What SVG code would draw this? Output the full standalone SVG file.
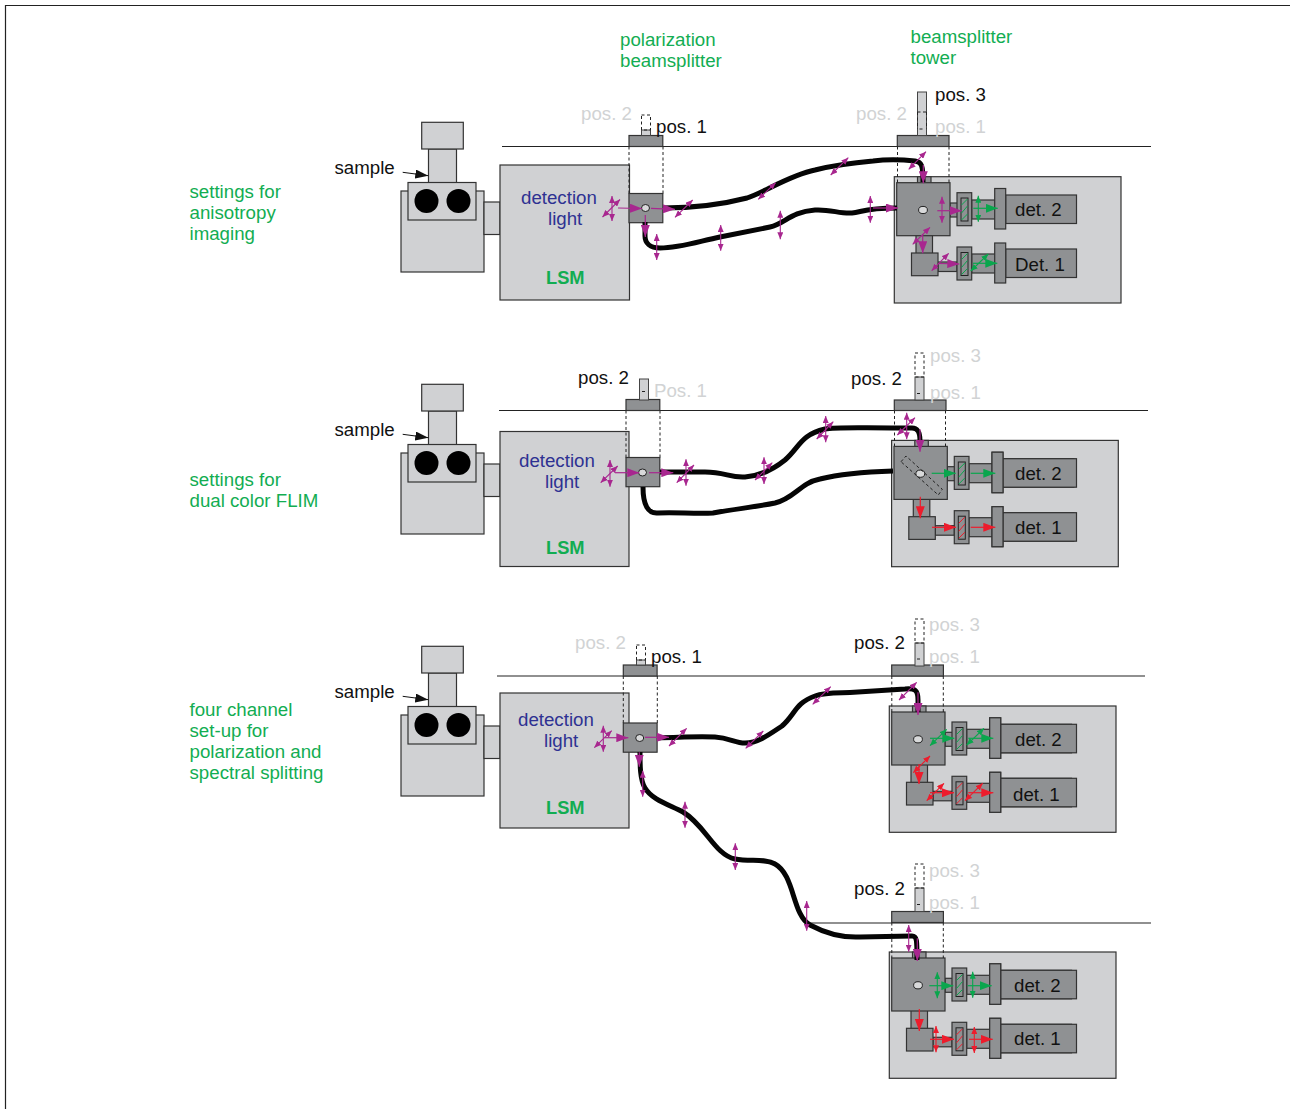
<svg xmlns="http://www.w3.org/2000/svg" width="1290" height="1109" viewBox="0 0 1290 1109">
<style>
text{font-family:"Liberation Sans",Arial,sans-serif;font-size:18.7px;fill:#111}
.g{fill:#12ad52}.b{fill:#2e3192}.f{fill:#d1d3d4}.lsm{fill:#12ad52;font-weight:bold;font-size:18.3px}
.lt{fill:#d0d1d3;stroke:#333;stroke-width:1.2}
.dk{fill:#8f9193;stroke:#333;stroke-width:1.2}
.bar{fill:#d0d1d3;stroke:#444;stroke-width:1}
.ds{fill:none;stroke:#222;stroke-width:1;stroke-dasharray:3 2.5}
.rule{stroke:#222;stroke-width:1.2;fill:none}
.fiber{fill:none;stroke:#050505;stroke-width:5;stroke-linejoin:round;stroke-linecap:butt}
.dot{fill:#d8d9da;stroke:#222;stroke-width:1}
.m{stroke:#a8278f;stroke-width:1.1;fill:none;marker-start:url(#ms);marker-end:url(#ms)}
.mb{stroke:#a8278f;stroke-width:1.2;fill:none;marker-end:url(#mb)}
.n{stroke:#0aa64d;stroke-width:1.1;fill:none;marker-start:url(#ns);marker-end:url(#ns)}
.nb{stroke:#0aa64d;stroke-width:1.2;fill:none;marker-end:url(#nb)}
.r{stroke:#ed1c2c;stroke-width:1.1;fill:none;marker-start:url(#rs);marker-end:url(#rs)}
.rb{stroke:#ed1c2c;stroke-width:1.2;fill:none;marker-end:url(#rb)}
.sa{stroke:#111;stroke-width:1;fill:none;marker-end:url(#kb)}
</style>
<defs>
<marker id="ms" markerUnits="userSpaceOnUse" markerWidth="8" markerHeight="6" refX="7" refY="3" orient="auto-start-reverse"><path d="M0 0L7 3L0 6z" fill="#a8278f"/></marker>
<marker id="mb" markerUnits="userSpaceOnUse" markerWidth="13" markerHeight="9" refX="12" refY="4.5" orient="auto"><path d="M0 0L12 4.5L0 9z" fill="#a8278f"/></marker>
<marker id="ns" markerUnits="userSpaceOnUse" markerWidth="8" markerHeight="6" refX="7" refY="3" orient="auto-start-reverse"><path d="M0 0L7 3L0 6z" fill="#0aa64d"/></marker>
<marker id="nb" markerUnits="userSpaceOnUse" markerWidth="13" markerHeight="9" refX="12" refY="4.5" orient="auto"><path d="M0 0L12 4.5L0 9z" fill="#0aa64d"/></marker>
<marker id="rs" markerUnits="userSpaceOnUse" markerWidth="8" markerHeight="6" refX="7" refY="3" orient="auto-start-reverse"><path d="M0 0L7 3L0 6z" fill="#ed1c2c"/></marker>
<marker id="rb" markerUnits="userSpaceOnUse" markerWidth="13" markerHeight="9" refX="12" refY="4.5" orient="auto"><path d="M0 0L12 4.5L0 9z" fill="#ed1c2c"/></marker>
<marker id="kb" markerUnits="userSpaceOnUse" markerWidth="14" markerHeight="9" refX="13" refY="4.5" orient="auto"><path d="M0 0L13 4.5L0 9z" fill="#111"/></marker>
<g id="scope">
<rect class="lt" x="401" y="191" width="83" height="81"/>
<rect class="lt" x="484" y="202" width="16" height="32.5"/>
<rect class="lt" x="428.5" y="149" width="28" height="34"/>
<rect class="lt" x="421.7" y="122.3" width="41.6" height="26.7"/>
<rect class="lt" x="408" y="182.5" width="68" height="37.5"/>
<circle cx="426.5" cy="201" r="12" fill="#000"/>
<circle cx="458.5" cy="201" r="12" fill="#000"/>
</g>
<g id="polbase">
<rect class="dk" x="0" y="-11" width="33.8" height="11"/>
<path class="ds" d="M0 0V47M34 0V47"/>
<rect class="dk" x="0" y="47" width="33.8" height="29.2"/>
</g>
<g id="towerbase">
<rect class="lt" x="894.3" y="176.7" width="226.7" height="126.3"/>
<rect class="dk" x="917.5" y="176.7" width="13.5" height="7"/>
<rect class="dk" x="950" y="203" width="8" height="14"/>
<rect class="dk" x="971.7" y="200" width="24" height="19"/>
<rect class="dk" x="1005.7" y="195" width="70.8" height="28.5"/>
<rect class="dk" x="994.7" y="188.5" width="11" height="40.5"/>
<rect class="dk" x="957" y="192.7" width="14.7" height="33"/>
<rect class="dk" x="916" y="235" width="16.5" height="19"/>
<rect class="dk" x="938" y="262" width="19" height="9.5"/>
<rect class="dk" x="971.7" y="254" width="24" height="19"/>
<rect class="dk" x="1005.7" y="249" width="70.8" height="28.5"/>
<rect class="dk" x="994.7" y="243" width="11" height="40"/>
<rect class="dk" x="957" y="247" width="14.7" height="33"/>
<rect class="dk" x="911.5" y="253" width="26.5" height="22.7"/>
<rect class="dk" x="896.7" y="182.7" width="53.3" height="53"/>
<ellipse class="dot" cx="923" cy="210" rx="4.4" ry="3.6"/>
</g>
<g id="filter">
<rect x="961" y="0" width="7" height="23" fill="#8f9193" stroke="#222" stroke-width="1"/>
<path d="M961.5 7L967.5 1M961.5 15L967.5 8M961.5 22L967.5 16" stroke="currentColor" stroke-width="1" fill="none"/>
</g>
</defs>

<g id="frame"><path d="M1290 5.500H5.500V1109" fill="none" stroke="#222" stroke-width="1.200"/></g>

<g id="row-labels">
<text class="g" x="189.500" y="198">settings for</text>
<text class="g" x="189.500" y="219">anisotropy</text>
<text class="g" x="189.500" y="240">imaging</text>
<text class="g" x="189.500" y="486">settings for</text>
<text class="g" x="189.500" y="507">dual color FLIM</text>
<text class="g" x="189.500" y="716">four channel</text>
<text class="g" x="189.500" y="737">set-up for</text>
<text class="g" x="189.500" y="758">polarization and</text>
<text class="g" x="189.500" y="779">spectral splitting</text>
<text class="g" x="620" y="46">polarization</text>
<text class="g" x="620" y="67">beamsplitter</text>
<text class="g" x="910.500" y="43">beamsplitter</text>
<text class="g" x="910.500" y="64">tower</text>
</g>

<g id="rules">
<path class="rule" d="M502 146.500H1151M499 410.500H1148M497 676H1145M806 923H1151"/>
</g>

<g id="scope1"><use href="#scope"/><text x="334.500" y="174">sample</text></g>
<g id="scope2"><use href="#scope" y="262"/><text x="334.500" y="436">sample</text></g>
<g id="scope3"><use href="#scope" y="524"/><text x="334.500" y="698">sample</text></g>

<g id="lsm1"><rect class="lt" x="500" y="165" width="129.500" height="135"/><text class="b" x="521" y="204">detection</text><text class="b" x="548" y="225">light</text><text class="lsm" x="546" y="284">LSM</text></g>
<g id="lsm2"><rect class="lt" x="500" y="431.500" width="129" height="135"/><text class="b" x="519" y="467">detection</text><text class="b" x="545" y="488">light</text><text class="lsm" x="546" y="554">LSM</text></g>
<g id="lsm3"><rect class="lt" x="500" y="693" width="129" height="135"/><text class="b" x="518" y="726">detection</text><text class="b" x="544" y="747">light</text><text class="lsm" x="546" y="814">LSM</text></g>

<g id="pol1">
<use href="#polbase" x="629" y="146.500"/>
<rect class="bar" x="641.500" y="130" width="9" height="5.500"/><rect class="ds" x="641.500" y="115" width="9" height="15"/>
<ellipse class="dot" cx="645.500" cy="208" rx="4" ry="3.500"/>
<text class="f" x="581" y="120">pos. 2</text><text x="656" y="133">pos. 1</text>
</g>
<g id="pol2">
<use href="#polbase" x="626" y="410.500"/>
<rect class="bar" x="639.500" y="379" width="9" height="21"/><path class="ds" d="M642 391.500H646"/>
<ellipse class="dot" cx="642.500" cy="472.500" rx="4" ry="3.500"/>
<text x="578" y="384">pos. 2</text><text class="f" x="654" y="397">Pos. 1</text>
</g>
<g id="pol3">
<use href="#polbase" x="623.300" y="676"/>
<rect class="bar" x="636.500" y="660" width="9" height="5"/><rect class="ds" x="636.500" y="645" width="9" height="15"/>
<ellipse class="dot" cx="639.700" cy="738" rx="4" ry="3.500"/>
<text class="f" x="575" y="649">pos. 2</text><text x="651" y="663">pos. 1</text>
</g>

<g id="tower1">
<use href="#towerbase"/>
<use href="#filter" y="198" color="#0aa64d"/><use href="#filter" y="252.500" color="#0aa64d"/>
<rect class="dk" x="897.300" y="135.500" width="51.700" height="11"/>
<rect class="bar" x="917.500" y="92" width="9" height="43.500"/><path class="ds" d="M917.500 112H926.500M917.500 112V129M926.500 112V129M919.500 129H924"/>
<path class="ds" d="M897.500 146.500V182.500M949 146.500V182.500"/>
<text x="1015" y="216">det. 2</text><text x="1015" y="271">Det. 1</text>
<text class="f" x="856" y="120">pos. 2</text><text x="935" y="101">pos. 3</text><text class="f" x="935" y="133">pos. 1</text>
</g>
<g id="tower2">
<use href="#towerbase" x="-2.700" y="263.700"/>
<rect class="dk" x="1003" y="458.700" width="73.500" height="28.500"/><rect class="dk" x="1003" y="512.700" width="73.500" height="28.500"/>
<rect class="dk" x="992" y="452.200" width="11" height="40.500"/><rect class="dk" x="992" y="506.700" width="11" height="40"/>
<use href="#filter" x="-2.700" y="462" color="#0aa64d"/><use href="#filter" x="-2.700" y="516.200" color="#ed1c2c"/>
<rect class="dk" x="894.300" y="400" width="51.700" height="10.500"/>
<rect class="bar" x="915" y="377" width="9" height="23"/><rect class="ds" x="915" y="353" width="9" height="24"/><path class="ds" d="M917 393.500H922"/>
<path class="ds" d="M894.500 410.500V446M945.500 410.500V446"/>
<path d="M901 461.700L906 456L942.300 489.300L938.300 495Z" fill="none" stroke="#222" stroke-width="1" stroke-dasharray="3 2.500"/>
<text x="1015" y="480">det. 2</text><text x="1015" y="534">det. 1</text>
<text x="851" y="385">pos. 2</text><text class="f" x="930" y="362">pos. 3</text><text class="f" x="930" y="399">pos. 1</text>
</g>
<g id="tower3">
<use href="#towerbase" x="-5" y="529.300"/>
<rect class="dk" x="1000.700" y="724.300" width="75.800" height="28.500"/><rect class="dk" x="1000.700" y="778.300" width="75.800" height="28.500"/>
<rect class="dk" x="989.700" y="717.800" width="11" height="40.500"/><rect class="dk" x="989.700" y="772.300" width="11" height="40"/>
<use href="#filter" x="-5" y="727.500" color="#0aa64d"/><use href="#filter" x="-5" y="781.800" color="#ed1c2c"/>
<rect class="dk" x="891.700" y="665" width="51.700" height="11"/>
<rect class="bar" x="915" y="643" width="9" height="23"/><rect class="ds" x="915" y="619" width="9" height="24"/><path class="ds" d="M917 659H922"/>
<path class="ds" d="M891.800 676V712M943.300 676V712"/>
<text x="1015" y="746">det. 2</text><text x="1013" y="801">det. 1</text>
<text x="854" y="649">pos. 2</text><text class="f" x="929" y="631">pos. 3</text><text class="f" x="929" y="663">pos. 1</text>
</g>
<g id="tower4">
<use href="#towerbase" x="-5" y="775.300"/>
<rect class="dk" x="1000.700" y="970.300" width="75.800" height="28.500"/><rect class="dk" x="1000.700" y="1024.300" width="75.800" height="28.500"/>
<rect class="dk" x="989.700" y="963.800" width="11" height="40.500"/><rect class="dk" x="989.700" y="1018.300" width="11" height="40"/>
<use href="#filter" x="-5" y="973.500" color="#0aa64d"/><use href="#filter" x="-5" y="1027.800" color="#ed1c2c"/>
<rect class="dk" x="891.700" y="911.500" width="51.700" height="11"/>
<rect class="bar" x="915" y="888" width="9" height="23.500"/><rect class="ds" x="915" y="864" width="9" height="24"/><path class="ds" d="M917 904.500H922"/>
<path class="ds" d="M891.800 922.500V958M943.300 922.500V958"/>
<text x="1014" y="992">det. 2</text><text x="1014" y="1045">det. 1</text>
<text x="854" y="895">pos. 2</text><text class="f" x="929" y="877">pos. 3</text><text class="f" x="929" y="909">pos. 1</text>
</g>

<g id="connectors">
<path class="sa" d="M402.700 172.300L428.300 175.700"/><path class="sa" d="M402.700 434.300L428.300 437.700"/><path class="sa" d="M402.700 696.300L428.300 699.700"/>

<path class="fiber" d="M663 208C690 208 720 205 747 198C765 192 790 175 815 170C835 165 850 163 873 161C890 159 905 160 915 161C922 162 923 166 923 182"/>
<path class="fiber" d="M645 222V236C645 243 650 248 660 248C680 248 700 241 720 237L770 227C785 224 790 212 815 210C830 209 840 214 852 213C862 212 865 208 897 208"/>
<path class="fiber" d="M660 472H705C725 472 730 478 745 477C760 476 775 468 785 460C800 447 800 435 825 429C835 427 850 428 912 428C918 428 920 432 920 441"/>
<path class="fiber" d="M643 487C643 505 648 514 658 513C675 512 695 514 713 513C735 509 755 507 775 503C795 498 800 483 820 479C840 474 860 472 893 471"/>
<path class="fiber" d="M658 738C680 737 700 736 715 737C730 738 735 743 745 743C758 743 770 734 782 726C795 715 795 703 815 696C825 692 840 693 850 692.500L905 689C915 688 918 690 918 700V712"/>
<path class="fiber" d="M640 752C640 765 640 780 645 788C652 800 670 805 683 812C705 825 715 855 735 859C750 862 765 858 775 864C795 875 792 915 810 925C825 933 840 938 860 937L912 936C917 936 917 940 917 960"/>

<g id="arrows1">
<path class="m" d="M612 196V221"/><path class="m" d="M602.500 217L620 199.500"/><path class="mb" d="M618 208L642 208.500"/>
<path class="mb" d="M651 208.300L675 209.300"/><path class="m" d="M675 217.300L692.700 200"/><path class="m" d="M758.300 199.300L775.700 182.700"/><path class="m" d="M830.700 175L848.300 157.700"/>
<path class="m" d="M720.700 225V250.700"/><path class="m" d="M780.300 210.700V239.300"/><path class="m" d="M656.700 234V260"/><path class="mb" d="M645.300 215V237"/>
<path class="m" d="M908.700 169.300L926 151.700"/><path class="mb" d="M923.300 165V183.300"/><path class="m" d="M870.300 196V222.700"/><path class="mb" d="M873 208H898"/>
<path class="m" d="M942 196.700V222.700"/><path class="mb" d="M937.300 210.700H961.700"/><path class="n" d="M978.300 195.700V221.700"/><path class="nb" d="M973.300 208.300H997.700"/>
<path class="m" d="M912.700 244.300L930 227.300"/><path class="mb" d="M922.700 234V253.300"/><path class="m" d="M931.700 270.700L948.700 253.300"/><path class="mb" d="M938.300 263.300L959.300 264"/>
<path class="n" d="M970.700 271L988.300 254"/><path class="nb" d="M973 263.300H997.300"/>
</g>
<g id="arrows2">
<path class="m" d="M610 460V486.700"/><path class="m" d="M600.700 482.700L617.700 466"/><path class="mb" d="M615 472.700H639.300"/><path class="mb" d="M649 472.700H673.300"/>
<path class="m" d="M686 459.300V485.700"/><path class="m" d="M676.700 482.700L694 465"/><path class="m" d="M764 457.300V484"/><path class="m" d="M755 480L772.300 462.700"/>
<path class="m" d="M825.700 416V442.300"/><path class="m" d="M816.700 439L833.300 421.700"/>
<path class="m" d="M906.700 412.700V439.300"/><path class="m" d="M897.300 435L915 417.700"/><path class="mb" d="M920 429.300V451.700"/>
<path class="nb" d="M931.700 473.300H955.700"/><path class="nb" d="M970.700 473.300H995.300"/>
<path class="rb" d="M920.300 496.700V518.300"/><path class="rb" d="M932 527.300H956"/><path class="rb" d="M970.700 527.300H995.300"/>
</g>
<g id="arrows3">
<path class="m" d="M603.300 725.700V751.700"/><path class="m" d="M594.300 747.700L611.700 730.700"/><path class="mb" d="M605 737.700H628.300"/><path class="mb" d="M645 737.300H669"/>
<path class="m" d="M669 746L686.700 728.300"/><path class="m" d="M745.700 748.300L763.300 731"/><path class="m" d="M812.700 704.300L830.700 686.700"/>
<path class="mb" d="M639.300 752.300V766.700"/><path class="m" d="M642.700 770.700V796.700"/><path class="m" d="M685 801.700V827.700"/><path class="m" d="M735.300 843.300V870"/><path class="m" d="M806.700 901V930.700"/>
<path class="m" d="M899 700L916.700 682.300"/><path class="mb" d="M918 692.300V715"/>
<path class="n" d="M930 745.700L946.700 729.300"/><path class="nb" d="M930 738.300H954.300"/><path class="n" d="M966.700 745L984 728.300"/><path class="nb" d="M968.300 738.300H993.300"/>
<path class="r" d="M913.300 772.700L930 756"/><path class="rb" d="M919 764V784"/><path class="r" d="M926.700 800.700L944 783.300"/><path class="rb" d="M930 792.700H954"/>
<path class="r" d="M965 800.700L982.700 783.300"/><path class="rb" d="M968.300 792.700H993.300"/>
</g>
<g id="arrows4">
<path class="m" d="M908.700 925V951.700"/><path class="mb" d="M917.300 938.300V961"/>
<path class="n" d="M937.300 972.300V998.300"/><path class="nb" d="M929.300 985.700H953.300"/><path class="n" d="M972.700 971.700V997.700"/><path class="nb" d="M967.700 985.700H991.700"/>
<path class="rb" d="M919.300 1009V1031"/><path class="r" d="M936 1026V1052.300"/><path class="rb" d="M930 1039.300H954"/><path class="r" d="M974.300 1027V1053"/><path class="rb" d="M969 1039.300H992.700"/>
</g>
</g>
</svg>
